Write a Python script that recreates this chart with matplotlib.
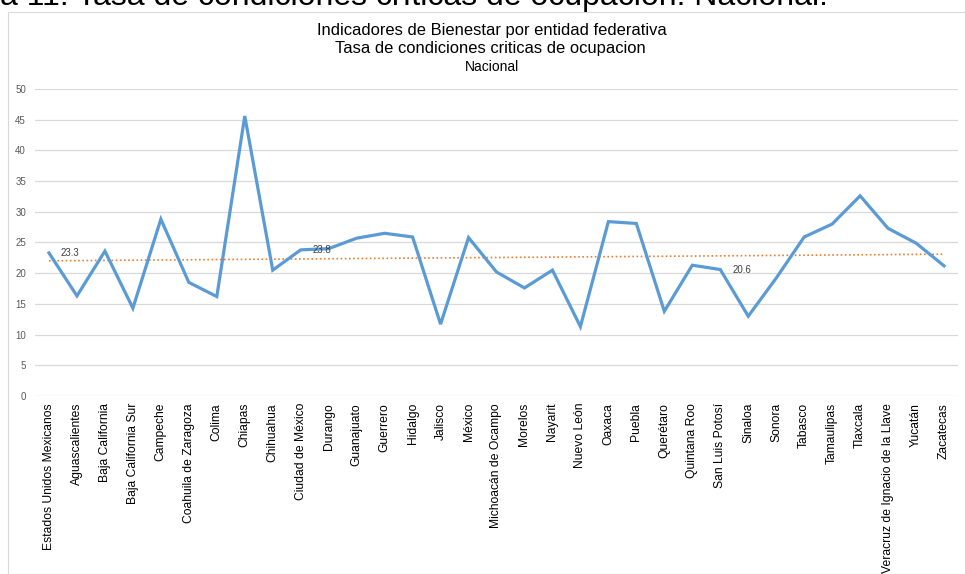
import matplotlib.pyplot as plt
from matplotlib.patches import Rectangle
import numpy as np

estados = ['Estados Unidos Mexicanos', 'Aguascalientes', 'Baja California',
           'Baja California Sur', 'Campeche', 'Coahuila de Zaragoza', 'Colima',
           'Chiapas', 'Chihuahua', 'Ciudad de México', 'Durango', 'Guanajuato',
           'Guerrero', 'Hidalgo', 'Jalisco', 'México', 'Michoacán de Ocampo',
           'Morelos', 'Nayarit', 'Nuevo León', 'Oaxaca', 'Puebla', 'Querétaro',
           'Quintana Roo', 'San Luis Potosí', 'Sinaloa', 'Sonora', 'Tabasco',
           'Tamaulipas', 'Tlaxcala', 'Veracruz de Ignacio de la Llave',
           'Yucatán', 'Zacatecas']
tasa = [23.3, 16.3, 23.6, 14.3, 28.8, 18.5, 16.2, 45.6, 20.5, 23.8, 24.0,
        25.7, 26.5, 25.9, 11.7, 25.8, 20.2, 17.6, 20.5, 11.3, 28.4, 28.1,
        13.8, 21.3, 20.6, 13.0, 19.2, 25.9, 28.0, 32.6, 27.3, 24.9, 21.2]
# points carrying a data label
etiquetados = ['Estados Unidos Mexicanos', 'Ciudad de México', 'San Luis Potosí']

W, H = 965, 574
fig = plt.figure(figsize=(W / 100, H / 100), dpi=100)

# chart frame (cropped by the image edge)
fig.patches.append(Rectangle((8 / W, 0), 1, 1 - 11.5 / H, transform=fig.transFigure,
                             fill=False, edgecolor='#d9d9d9', linewidth=0.8))

# caption of the document, cut at the top
fig.text(0 / W, 1 - 4.5 / H, 'a 11. Tasa de condiciones críticas de ocupación. Nacional.',
         fontsize=23, family='Liberation Sans', ha='left', va='baseline', color='black')

fig.text(492 / W, 1 - 30 / H, 'Indicadores de Bienestar por entidad federativa',
         fontsize=11.9, family='Liberation Sans', ha='center', va='center')
fig.text(490 / W, 1 - 49 / H, 'Tasa de condiciones criticas de ocupacion',
         fontsize=11.9, family='Liberation Sans', ha='center', va='center')
fig.text(492 / W, 1 - 67 / H, 'Nacional',
         fontsize=10, family='Liberation Sans', ha='center', va='center')

ax = fig.add_axes([35 / W, (H - 396) / H, (958 - 35) / W, (396 - 89) / H])
x = np.arange(len(estados))

ax.plot(x, tasa, color='#5b9bd5', linewidth=2.3, solid_joinstyle='miter', zorder=3)

# linear trend line
m, b = np.polyfit(x, tasa, 1)
ax.plot(x, m * x + b, color='#ed7d31', linewidth=1.2, linestyle=(0, (1, 1.5)), zorder=2)

for nombre in etiquetados:
    i = estados.index(nombre)
    ax.annotate(f'{tasa[i]:.1f}', (x[i], tasa[i]), xytext=(8.5, 0),
                textcoords='offset points', ha='left', va='center',
                fontsize=7, color='#404040', family='Liberation Sans', zorder=4)

ax.set_xlim(-0.5, len(estados) - 0.5)
ax.set_ylim(0, 50)
ax.set_yticks(np.arange(0, 51, 5))
ax.grid(axis='y', color='#d9d9d9', linewidth=0.9)
ax.set_axisbelow(True)
for s in ax.spines.values():
    s.set_visible(False)

ax.set_xticks(x)
ax.set_xticklabels(estados, rotation=90, fontsize=8.7, family='Liberation Sans')
ax.tick_params(axis='x', length=0, pad=5)
ax.tick_params(axis='y', length=0, pad=6.5, labelsize=7, labelcolor='#595959')
for t in ax.get_yticklabels():
    t.set_family('Liberation Sans')

fig.savefig('out.png', dpi=100)
